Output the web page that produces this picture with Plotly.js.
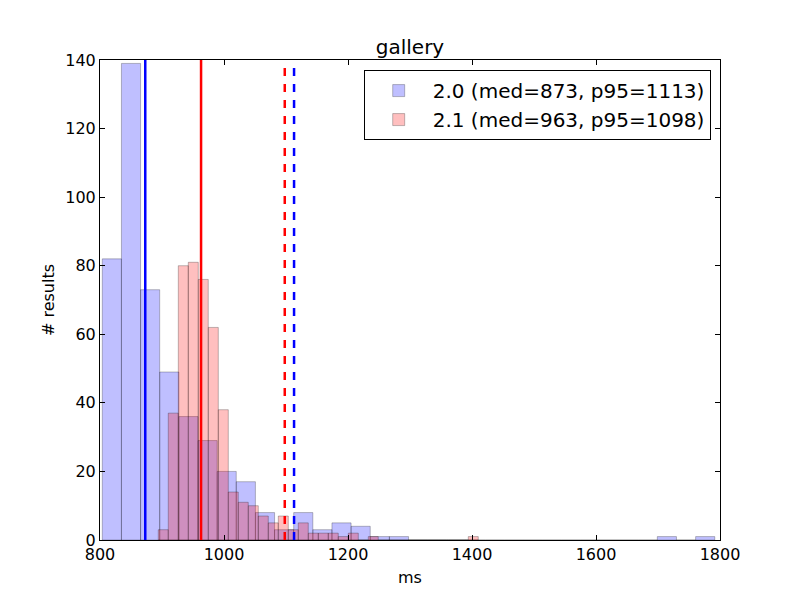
<!DOCTYPE html>
<html>
<head>
<meta charset="utf-8">
<script src="https://cdn.plot.ly/plotly-3.0.1.min.js"></script>
<style>
  html, body { margin: 0; padding: 0; background: #fff; }
  #grafica { width: 800px; height: 600px; }
</style>
</head>
<body>
<div id="grafica"></div>
<script>
// histogram bins of the 2.0 run (left edge of each bin, ms) and their counts
const binsV20 = [
  803.7, 834.6, 865.4, 896.3, 927.2, 958.1, 988.9, 1019.8,
  1050.7, 1081.5, 1112.4, 1143.3, 1174.1, 1205.0, 1235.9, 1266.8,
  1297.6, 1328.5, 1359.4, 1390.2, 1421.1, 1452.0, 1482.8, 1513.7,
  1544.6, 1575.5, 1606.3, 1637.2, 1668.1, 1698.9, 1729.8, 1760.7
];
const countsV20 = [
  82, 139, 73, 49, 36, 29, 20, 17,
  8, 3, 8, 3, 5, 4, 1, 1,
  0, 0, 0, 0, 0, 0, 0, 0,
  0, 0, 0, 0, 0, 1, 0, 1
];

// histogram bins of the 2.1 run
const binsV21 = [
  894.0, 910.1, 926.3, 942.4, 958.5, 974.7, 990.8, 1006.9,
  1023.0, 1039.2, 1055.3, 1071.4, 1087.6, 1103.7, 1119.8, 1136.0,
  1152.1, 1168.2, 1184.3, 1200.5, 1216.6, 1232.7, 1248.9, 1265.0,
  1281.1, 1297.3, 1313.4, 1329.5, 1345.6, 1361.8, 1377.9, 1394.0
];
const countsV21 = [
  3, 37, 80, 81, 76, 62, 38, 14,
  11, 10, 7, 5, 7, 3, 5, 2,
  2, 2, 1, 2, 0, 1, 0, 0,
  0, 0, 0, 0, 0, 0, 0, 1
];

const versiones = ['2.0', '2.1'];
const medianas = [873, 963];
const p95s = [1113, 1098];

const colores = ['0,0,255', '255,0,0'];
const anchos = [30.87, 16.13];

const FUENTE = 'DejaVu Sans, Arial, sans-serif';

function trazaHistograma(i, bins, cuentas) {
  return {
    type: 'bar',
    x: bins,
    y: cuentas,
    width: anchos[i],
    offset: 0,
    name: `${versiones[i]} (med=${medianas[i]}, p95=${p95s[i]})`,
    marker: {
      color: `rgba(${colores[i]},0.25)`,
      line: { color: 'rgba(0,0,0,0.25)', width: 1 }
    },
    hoverinfo: 'skip'
  };
}

const trazas = [
  trazaHistograma(0, binsV20, countsV20),
  trazaHistograma(1, binsV21, countsV21)
];

const lineas = [];
versiones.forEach((v, i) => {
  lineas.push({
    type: 'line', xref: 'x', yref: 'paper',
    x0: medianas[i], x1: medianas[i], y0: 0, y1: 1,
    line: { color: `rgb(${colores[i]})`, width: 2.5 },
    layer: 'above'
  });
  lineas.push({
    type: 'line', xref: 'x', yref: 'paper',
    x0: p95s[i], x1: p95s[i], y0: 0, y1: 1,
    line: { color: `rgb(${colores[i]})`, width: 2.5, dash: '8px,8px' },
    layer: 'above'
  });
});

const ejeComun = {
  showline: true,
  linecolor: '#000',
  linewidth: 1,
  mirror: 'allticks',
  ticks: 'inside',
  ticklen: 5,
  tickcolor: '#000',
  showgrid: false,
  zeroline: false,
  tickfont: { family: FUENTE, size: 16, color: '#000' }
};

const layout = {
  width: 800,
  height: 600,
  margin: { l: 100, r: 80, t: 60, b: 60 },
  paper_bgcolor: '#fff',
  plot_bgcolor: '#fff',
  font: { family: FUENTE, color: '#000' },
  barmode: 'overlay',
  bargap: 0,
  showlegend: true,
  title: {
    text: 'gallery',
    font: { family: FUENTE, size: 20, color: '#000' },
    x: 0.5,
    xref: 'paper',
    xanchor: 'center',
    y: 1,
    yref: 'paper',
    yanchor: 'bottom',
    pad: { b: 6 }
  },
  xaxis: Object.assign({}, ejeComun, {
    range: [800, 1800],
    tickvals: [800, 1000, 1200, 1400, 1600, 1800],
    title: { text: 'ms', font: { family: FUENTE, size: 16, color: '#000' }, standoff: 8 }
  }),
  yaxis: Object.assign({}, ejeComun, {
    range: [0, 140],
    tickvals: [0, 20, 40, 60, 80, 100, 120, 140],
    title: { text: '# results', font: { family: FUENTE, size: 16, color: '#000' }, standoff: 6 }
  }),
  legend: {
    x: 0.985,
    y: 0.979,
    xanchor: 'right',
    yanchor: 'top',
    bgcolor: '#fff',
    bordercolor: '#000',
    borderwidth: 1,
    itemwidth: 58,
    font: { family: FUENTE, size: 20, color: '#000' },
    tracegroupgap: 0
  },
  shapes: lineas
};

Plotly.newPlot('grafica', trazas, layout, { displayModeBar: false, staticPlot: true });
</script>
</body>
</html>
